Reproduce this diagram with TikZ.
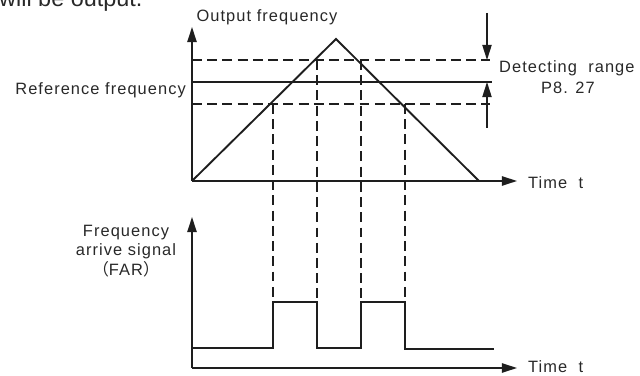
\documentclass[tikz,border=0pt]{standalone}
\usepackage{fontspec}
\setmainfont{Liberation Sans}
\newfontfamily\cjk{Noto Sans CJK SC}
\usetikzlibrary{positioning,calc}
\usetikzlibrary{arrows.meta}
\definecolor{InkGray}{RGB}{30,30,30}
\definecolor{TextGray}{RGB}{40,40,40}
\tikzset{
  axis/.style={draw=InkGray,line width=1.6pt,-{Triangle[length=13pt,width=8pt]}},
  trace/.style={draw=InkGray,line width=1.6pt},
  guide/.style={draw=InkGray,line width=1.6pt,dash pattern=on 8.5pt off 4.5pt},
  lbl/.style={text=TextGray,inner sep=0pt,font=\fontsize{14}{16.5}\selectfont\addfontfeature{LetterSpace=6.5}},
}

\begin{document}
\begin{tikzpicture}[x=0.03cm,y=-0.03cm]
\useasboundingbox (0,0) rectangle (640,376);
\coordinate (o1) at (192,181);
\coordinate (y1) at (192,27);
\coordinate (x1) at (517,181);
\coordinate (pk) at (336,39);
\coordinate (ed) at (479,181);
\coordinate (hiL) at (192,60);
\coordinate (hiR) at (490,60);
\coordinate (refL) at (192,82);
\coordinate (refR) at (492,82);
\coordinate (loL) at (192,104);
\coordinate (loR) at (490,104);
\coordinate (a1) at (273,104);
\coordinate (a2) at (317,60);
\coordinate (a3) at (361,60);
\coordinate (a4) at (405,104);
\coordinate (o2) at (192,368);
\coordinate (y2) at (192,217);
\coordinate (x2) at (517,368);
\coordinate (s0) at (192,348);
\coordinate (b1) at (273,302);
\coordinate (b2) at (317,302);
\coordinate (b3) at (361,302);
\coordinate (b4) at (405,302);
\coordinate (s5) at (494,349);
\coordinate (dTop) at (487,13);
\coordinate (dBot) at (487,128);
\draw[axis] (o1)--(y1);
\draw[axis] (o1)--(x1);
\draw[trace] (o1)--(pk)--(ed);
\draw[trace] (refL)--(refR);
\draw[guide] (hiL)--(hiR);
\draw[guide] (loL)--(loR);
\draw[axis,line width=1.1pt] (dTop)--(dTop|-hiR);
\draw[axis,line width=1.1pt] (dBot)--(dBot|-refR);
\foreach \k in {1,...,4}{
  \draw[guide] (a\k)--(b\k);
}
\draw[axis] (o2)--(y2);
\draw[axis] (o2)--(x2);
\draw[trace] (s0)--(s0-|b1)--(b1)--(b2)--(s0-|b2)--(s0-|b3)--(b3)--(b4)--(s5-|b4)--(s5);
\node[lbl,anchor=base west,font=\fontsize{20}{24}\selectfont] (note) at (-1,7) {will be output.};
\node[lbl] (outf) at (267,17) {Output frequency};
\node[lbl,anchor=east] (reff) at (186,90) {Reference frequency};
\node[lbl,anchor=west] (detr) at (499,68) {Detecting\ \ range};
\node[lbl] (parm) at (568,88) {P8. 27};
\node[lbl,anchor=west] (time1) at (528,183) {Time\ \ t};
\node[lbl,anchor=west] (time2) at (528,367) {Time\ \ t};
\node[lbl,align=center] (far) at (126,251) {Frequency\\arrive signal\\{\cjk （}FAR{\cjk ）}};
\end{tikzpicture}
\end{document}
